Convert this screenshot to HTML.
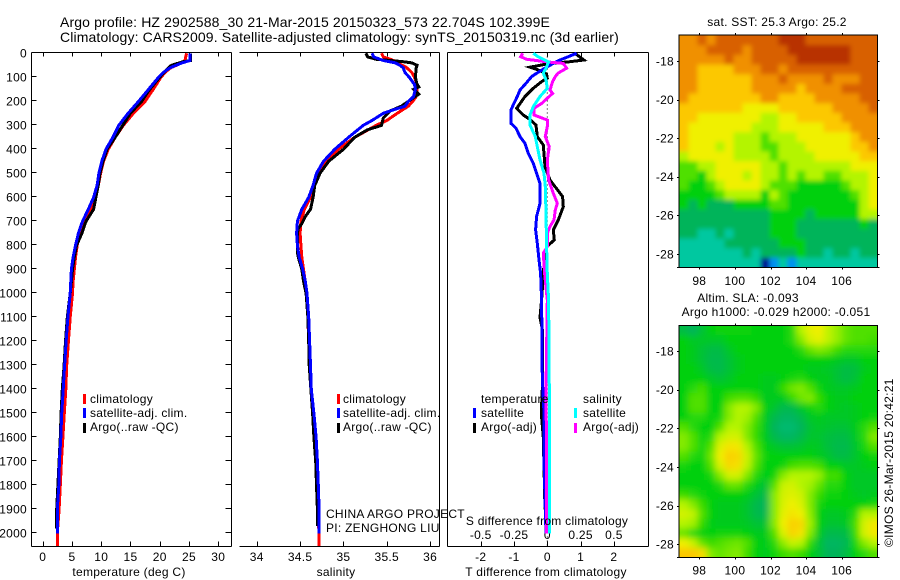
<!DOCTYPE html>
<html>
<head>
<meta charset="utf-8">
<title>Argo profile</title>
<style>
html,body{margin:0;padding:0;background:#fff;}
svg{display:block;}
text{font-family:"Liberation Sans",sans-serif;font-size:12px;fill:#000;letter-spacing:0.27px;}
.t{font-size:14px;letter-spacing:0.13px;}
.a{stroke:#000;stroke-width:1;fill:none;shape-rendering:crispEdges;}
.s{fill:none;stroke-width:3;stroke-linejoin:miter;shape-rendering:crispEdges;}
.m{text-anchor:middle;}
.e{text-anchor:end;}
</style>
</head>
<body>
<svg id="chart" xmlns="http://www.w3.org/2000/svg" width="900" height="580" viewBox="0 0 900 580">
  <defs>
    <clipPath id="clip-sst"><rect x="679.5" y="35.5" width="198" height="232"/></clipPath>
    <clipPath id="clip-sla"><rect x="679.5" y="325.5" width="198" height="232"/></clipPath>
    <filter id="blur-sst" filterUnits="userSpaceOnUse" x="650" y="10" width="250" height="280"><feGaussianBlur stdDeviation="2.5"/></filter>
    <filter id="blur-sla" filterUnits="userSpaceOnUse" x="650" y="300" width="250" height="280"><feGaussianBlur stdDeviation="3.5"/></filter>
  </defs>

  <text class="t" x="60" y="27">Argo profile: HZ 2902588_30 21-Mar-2015 20150323_573 22.704S 102.399E</text>
  <text class="t" x="60" y="42">Climatology: CARS2009. Satellite-adjusted climatology: synTS_20150319.nc (3d earlier)</text>

  <g id="axes"></g>
  <g id="series"></g>

  <text class="m" x="129" y="576">temperature (deg C)</text>
  <text class="m" x="336" y="576">salinity</text>
  <text class="m" x="546" y="576">T difference from climatology</text>
  <text class="m" x="547" y="525">S difference from climatology</text>

  <g>
    <rect x="83" y="394" width="3" height="10" fill="#f00"/>
    <text x="90" y="403">climatology</text>
    <rect x="83" y="408" width="3" height="10" fill="#00f"/>
    <text x="90" y="417">satellite-adj. clim.</text>
    <rect x="83" y="423" width="3" height="10" fill="#000"/>
    <text x="90" y="431">Argo(..raw -QC)</text>
  </g>
  <g>
    <rect x="337" y="394" width="3" height="10" fill="#f00"/>
    <text x="343" y="403">climatology</text>
    <rect x="337" y="408" width="3" height="10" fill="#00f"/>
    <text x="343" y="417">satellite-adj. clim.</text>
    <rect x="337" y="423" width="3" height="10" fill="#000"/>
    <text x="343" y="431">Argo(..raw -QC)</text>
  </g>
  <g>
    <text x="481" y="403">temperature</text>
    <rect x="473" y="408" width="3" height="10" fill="#00f"/>
    <text x="481" y="417">satellite</text>
    <rect x="473" y="423" width="3" height="10" fill="#000"/>
    <text x="481" y="431">Argo(-adj)</text>
    <text x="583" y="403">salinity</text>
    <rect x="574" y="408" width="3" height="10" fill="#0ff"/>
    <text x="583" y="417">satellite</text>
    <rect x="574" y="423" width="3" height="10" fill="#f0f"/>
    <text x="583" y="431">Argo(-adj)</text>
  </g>

  <text x="326" y="518">CHINA ARGO PROJECT</text>
  <text x="326" y="532">PI: ZENGHONG LIU</text>

  <text class="m" x="777" y="26">sat. SST: 25.3 Argo: 25.2</text>
  <text class="m" x="748" y="302">Altim. SLA: -0.093</text>
  <text class="m" x="776" y="316">Argo h1000: -0.029 h2000: -0.051</text>
  <text transform="translate(893,547) rotate(-90)">©IMOS 26-Mar-2015 20:42:21</text>

  <g clip-path="url(#clip-sst)"><g id="sst-cells" filter="url(#blur-sst)"></g></g>
  <g clip-path="url(#clip-sla)"><g id="sla-cells" filter="url(#blur-sla)"></g></g>
  <g id="map-axes"></g>
</svg>

<script>
// ---- tick labels ----
const depthTicks = [0,100,200,300,400,500,600,700,800,900,1000,1100,1200,1300,1400,1500,1600,1700,1800,1900,2000];
const tempTicks = [0,5,10,15,20,25,30];
const salTicks = [34,34.5,35,35.5,36];
const tDiffTicks = [-2,-1,0,1,2];
const sDiffTicks = [-0.5,-0.25,0,0.25,0.5];
const lonTicks = [98,100,102,104,106];
const latTicks = [-18,-20,-22,-24,-26,-28];

// ---- temperature profiles ----
const tempClimDepth = [0,30,40,60,80,100,150,200,250,300,350,400,450,500,550,600,650,700,750,800,850,900,950,1000,1100,1200,1300,1400,1500,1600,1700,1800,1900,2000,2053];
const tempClimValue = [24.6,24.3,23.8,21.9,20.9,20.2,18.9,17.5,15.5,13.8,12.4,11.2,10.4,9.9,9.5,9.1,8.2,7.2,6.4,5.9,5.6,5.4,5.2,5.1,4.7,4.4,4.1,3.95,3.7,3.45,3.2,3.0,2.8,2.5,2.5];
const tempArgoDepth = [0,30,35,50,60,100,150,200,250,300,350,400,450,500,550,600,650,700,750,800,850,900,950,1000,1100,1200,1300,1400,1500,1600,1700,1800,1900,1980];
const tempArgoValue = [25.3,25.3,24.0,22.0,21.5,20.0,18.3,16.9,15.0,13.7,12.4,11.0,10.3,9.8,9.5,9.1,8.7,7.4,6.7,5.8,5.4,5.1,4.9,4.7,4.2,3.9,3.65,3.35,3.15,3.0,2.8,2.6,2.4,2.4];
const tempSatDepth = [0,30,40,60,80,100,150,200,250,300,350,400,450,500,550,600,650,700,750,800,850,900,950,1000,1100,1200,1300,1400,1500,1600,1700,1800,1900,2000];
const tempSatValue = [25.2,25.2,23.8,21.8,20.6,19.8,18.1,16.4,14.6,13.0,12.0,10.8,10.1,9.6,9.3,8.7,7.8,6.8,6.1,5.6,5.2,4.9,4.8,4.7,4.3,4.0,3.75,3.5,3.25,3.1,2.85,2.75,2.5,2.5];

// ---- salinity profiles ----
const salClimDepth = [0,15,30,40,60,80,100,130,150,180,200,220,250,280,300,350,400,450,500,550,600,650,700,750,800,850,900,1000,1200,1400,1600,1800,1900,2000,2053];
const salClimValue = [35.44,35.46,35.58,35.63,35.73,35.79,35.82,35.85,35.85,35.84,35.8,35.75,35.62,35.5,35.38,35.13,34.94,34.81,34.72,34.67,34.62,34.55,34.51,34.5,34.51,34.52,34.54,34.58,34.6,34.63,34.68,34.7,34.7,34.72,34.72];
const salArgoDepth = [0,15,25,30,35,40,50,60,100,130,140,150,170,190,220,240,270,300,320,350,400,450,500,550,600,650,680,710,730,750,800,830,850,900,950,1000,1100,1200,1300,1400,1500,1600,1700,1800,1900,1970];
const salArgoValue = [35.26,35.28,35.38,35.54,35.69,35.79,35.85,35.84,35.83,35.85,35.87,35.81,35.87,35.79,35.67,35.54,35.46,35.44,35.27,35.13,35.0,34.83,34.73,34.67,34.65,34.62,34.56,34.52,34.48,34.47,34.47,34.47,34.48,34.52,34.54,34.57,34.59,34.6,34.605,34.625,34.645,34.66,34.68,34.69,34.7,34.7];
const salSatDepth = [0,15,30,40,50,60,80,100,130,150,180,200,220,250,280,300,350,400,450,500,550,600,650,700,750,800,850,900,950,1000,1100,1200,1300,1400,1500,1600,1700,1800,1900,2000];
const salSatValue = [35.33,35.35,35.46,35.6,35.65,35.69,35.71,35.76,35.82,35.83,35.81,35.75,35.71,35.46,35.33,35.23,35.06,34.9,34.77,34.69,34.65,34.6,34.52,34.47,34.46,34.47,34.49,34.53,34.56,34.58,34.6,34.61,34.62,34.63,34.66,34.685,34.7,34.71,34.72,34.72];

// ---- difference profiles ----
const dSalArgoDepth = [0,14,25,36,42,62,83,97,118,153,167,187,208,229,257,278,305,347,389,444,528,583,625,653,694,722,750,806,833,917,1028,1400,1700,2000];
const dSalArgoValue = [-0.185,-0.2,-0.155,0,0.12,0.145,0.08,0.06,0.04,0.02,0.04,0,-0.04,-0.1,-0.1,0,0,-0.015,0.015,0,0.01,0.045,0.075,0.06,0.05,0.02,0,0,-0.03,-0.02,0,-0.01,-0.005,-0.005];
const dTempArgoDepth = [0,28,35,44,58,72,86,104,118,146,180,229,257,278,299,347,382,472,528,597,639,694,736,778,806,833,917,1028,1100,1150,1400,1500,1600,1900];
const dTempArgoValue = [0.83,1.1,0.68,0,-0.52,-0.22,-0.02,0,-0.17,-0.42,-0.67,-0.92,-0.72,-0.5,-0.34,-0.3,-0.12,-0.07,0.08,0.46,0.48,0.33,0.18,0.21,-0.02,-0.07,-0.12,-0.17,-0.22,-0.15,-0.15,-0.18,-0.12,-0.07];
const dTempSatDepth = [0,28,42,70,97,125,153,180,208,236,292,312,347,375,417,458,500,542,625,680,736,792,860,917,1028,1350,1500,1700,1900,2000];
const dTempSatValue = [0.88,0.38,0.18,-0.17,-0.47,-0.64,-0.82,-0.9,-1.0,-1.09,-1.09,-0.94,-0.82,-0.67,-0.57,-0.42,-0.32,-0.22,-0.22,-0.32,-0.35,-0.3,-0.25,-0.2,-0.17,-0.15,-0.1,-0.1,-0.06,-0.04];
const dSalSatDepth = [0,14,36,62,83,111,146,180,222,257,299,347,389,444,500,556,667,806,917,1028,1400,2000];
const dSalSatValue = [-0.105,-0.07,0.01,-0.01,-0.03,-0.01,0,-0.055,-0.105,-0.13,-0.13,-0.09,-0.075,-0.055,-0.025,-0.015,-0.01,-0.005,0,0.01,0.015,0.015];

// ---- heatmap values (colour-scale level) ----
const sstGrid = [
[9,9,10,9,10,10,10,10,10,10,10,11,11,11,10,10,10,10,10,10,10,10],
[9,9,9,10,10,10,10,9,10,10,10,10,11,11,11,11,11,11,11,10,10,10],
[9,9,9,9,9,10,9,9,10,10,10,10,10,11,11,11,11,11,11,10,10,10],
[9,9,8,8,8,8,9,9,9,10,10,9,10,10,10,10,10,10,10,10,10,10],
[9,9,8,8,8,8,8,8,9,9,9,10,9,9,9,9,10,9,9,9,10,10],
[9,9,8,8,8,8,8,8,9,9,9,9,9,8,9,9,9,9,10,10,10,10],
[9,8,8,8,8,8,8,8,8,9,9,8,8,8,8,9,9,9,9,9,10,10],
[8,8,8,8,8,8,8,7,7,7,7,8,8,8,8,8,8,9,9,9,9,10],
[8,8,7,7,7,7,7,7,7,6,6,7,7,8,8,8,8,8,9,9,9,9],
[8,7,7,7,7,7,7,7,6,6,6,7,7,7,7,7,8,8,8,9,9,9],
[8,7,7,7,7,7,6,6,6,5,6,6,6,7,7,7,7,7,7,8,9,9],
[8,7,7,7,6,7,6,6,6,5,5,6,6,6,7,7,7,7,7,8,8,9],
[6,7,7,7,7,7,6,6,6,6,5,6,6,6,6,7,7,7,7,7,8,8],
[5,5,6,6,7,7,7,7,7,6,6,5,6,6,6,6,6,6,6,7,7,7],
[5,5,4,6,7,7,7,6,7,6,6,5,6,5,6,6,5,5,6,6,6,7],
[5,4,4,5,6,7,7,7,7,6,5,5,5,4,4,4,4,4,5,6,6,7],
[4,4,4,4,5,6,6,6,6,4,6,5,4,4,4,4,4,4,4,5,6,7],
[4,3,4,3,3,3,4,4,4,4,5,5,4,4,4,4,4,4,4,4,6,7],
[3,3,3,3,3,3,3,3,3,3,4,4,4,4,3,4,4,4,4,4,6,6],
[3,3,3,3,3,3,3,3,3,3,4,4,4,3,3,3,3,3,3,3,4,3],
[3,3,2,2,3,2,3,3,3,3,4,4,4,3,3,3,3,3,3,3,3,3],
[2,2,2,2,2,3,3,3,3,3,3,4,4,4,3,3,3,3,3,3,3,3],
[2,2,2,2,2,2,2,3,2,3,3,3,3,4,3,3,2,3,3,2,3,3],
[2,2,2,2,2,2,2,2,2,0,1,2,1,2,2,2,2,2,2,2,2,2]
];
const slaGrid = [
[3.3,3,3.5,4,4.2,4.2,4.2,4.2,4,4,4,4,4.5,6,6.8,7,6.2,5.7,5.2,5,5,5],
[4,3.7,3.7,3.7,3.7,4,4,4,4,4,4,4,4.5,5.5,6.5,6.8,6.2,5.7,5.2,5,5,4.8],
[4,3.8,3.5,3.3,3.3,3.7,4,4,4,4,4,4,4,4.5,5.2,5.5,5.3,4.8,4.5,4.5,4.5,4.5],
[4,3.8,3.5,3.2,3.2,3.5,3.8,4,4,4,4,4,4,4,4,4,4,3.8,3.7,3.7,4,4],
[4,4,3.7,3.3,3.2,3.5,3.8,4,4,4,4,4,4,4,3.8,3.8,3.7,3.5,3.3,3.4,3.8,4],
[4,4,4,3.7,3.5,3.7,4,4,4,3.8,3.8,4,4.3,4.5,4,3.8,3.8,3.5,3.3,3.5,4,4],
[4,4.5,4.8,4,4,4,4,4,4,3.8,3.8,4.6,5.3,5.5,5,4.2,3.8,3.7,3.7,3.8,4,4],
[4,5,5,4,4,4.8,5,5,4.6,3.8,3.8,3.8,4.6,5.3,5.5,4.6,4,3.8,3.8,4,4,4],
[4,5,5,4,4,5.5,6,6,5.5,4,3.6,3.2,3.2,3.7,4.2,4.5,4,3.8,3.7,3.8,4,4],
[4,4.5,4.5,4,4.3,5.5,6,5.8,5,3.8,3.2,2.9,2.9,3.2,3.7,3.8,3.7,3.7,3.7,3.8,4,4.2],
[5,4.5,4,4,5,6,6,5.5,4.7,3.8,3,2.7,2.7,3,3.5,3.7,3.6,3.5,3.5,3.8,4.5,5],
[5.5,5,4.2,4.5,6,6.5,6.5,5.5,4.6,3.8,3.2,2.9,2.9,3.2,3.6,3.6,3.4,3.3,3.3,3.7,4.5,5.5],
[5.5,5,4.3,5,6.7,7.3,7.2,6,5,4,3.7,3.5,3.5,3.6,3.8,3.7,3.4,3.2,3.2,3.6,4.3,5],
[5,4.5,4.2,5.3,7,7.8,7.6,6.4,5.2,4.2,4,4,4,4,4,3.8,3.6,3.3,3.3,3.6,4,4.2],
[4.3,4,4,5,6.6,7.6,7.4,6.2,5,4,4,4.2,4.8,5,5,4.8,4,4,3.7,3.7,3.8,4],
[4,4,4,4.3,5.5,6.5,6.5,5.5,4.5,3.9,4.2,5.5,6,6,6,5.7,4.8,4.8,4,3.7,3.7,3.7],
[4,4,4,4,4.4,5.2,5.2,4.5,3.9,3.5,5,6.3,6.5,6,5.8,5.2,4.5,4.5,4,3.7,3.7,3.7],
[4.7,4.5,4.2,4,4,4,4,3.9,3.5,3.2,5.5,6.5,6.7,6.4,5.5,4.7,4.2,4.2,4,3.8,3.7,3.8],
[6,5.5,4.7,4,3.8,3.8,3.8,3.6,3.2,3,5.5,6.6,7,6.6,5.5,4.3,4,4,4,4,4,4.3],
[6.5,6.2,5,4,3.8,3.8,3.8,3.6,3.2,3.1,5.5,6.8,7.3,7,5.6,4,3.7,3.7,3.8,4.5,6,6],
[6,5.8,4.6,3.9,3.8,3.8,3.8,3.7,3.5,3.5,5.5,7,7.8,7.6,5.8,4,3.6,3.6,3.7,4.8,6.5,7.2],
[5.2,4.5,4,4,4.2,4.2,4.2,4,3.8,3.8,5,6.6,7.7,7.3,5.5,3.8,3.2,3.2,3.3,4.6,6.5,7.2],
[7,6.3,5.2,4.7,5,5.2,5.3,5,4,3.8,4.5,5.6,6.3,6,4.6,3.5,2.9,2.9,3.1,4.3,5.5,6],
[8,8,7.5,5.5,5.2,5.4,5.5,4.8,4,3.8,4.2,4.7,5,4.7,4,3.5,3,3,3.3,4,4.5,5]
];

const NS = 'http://www.w3.org/2000/svg';
const axesLayer = document.getElementById('axes');
const seriesLayer = document.getElementById('series');
const mapAxes = document.getElementById('map-axes');

function make(tag, attrs, parent, txt) {
  const el = document.createElementNS(NS, tag);
  for (const k in attrs) el.setAttribute(k, attrs[k]);
  if (txt !== undefined) el.textContent = txt;
  parent.appendChild(el);
  return el;
}

// ---- scales ----
const yDepth = d => 53.3 + 0.24 * d;
const xTemp = v => 42.7 + 5.85 * v;
const xSal = v => 256.7 + 86.7 * (v - 34);
const xDT = v => 547.3 + 33.3 * v;
const xDS = v => 547.3 + 133.2 * v;
const xLon = v => 699.3 + 17.8 * (v - 98);
const ySst = v => 61 + 19.3 * (-18 - v);
const ySla = v => 351 + 19.33 * (-18 - v);

const TOP = 52.5, BOT = 546.5;

function line(x1, y1, x2, y2, name, parent) {
  const el = make('line', {x1: x1, y1: y1, x2: x2, y2: y2, class: 'a'}, parent);
  
  
  return el;
}
function label(x, y, cls, txt, name, parent) {
  const el = make('text', {x: x, y: y, class: cls}, parent, txt);
  
  
  return el;
}
function fmt(v) { return String(v); }

// ---- profile panel frames ----
// temperature panel
line(31.5, TOP, 231.5, TOP, 'temperature-top-axis', axesLayer);
line(31.5, BOT, 231.5, BOT, 'temperature-bottom-axis', axesLayer);
line(31.5, TOP, 31.5, BOT, 'temperature-left-axis', axesLayer);
line(231.5, TOP, 231.5, BOT, 'temperature-right-axis', axesLayer);
// salinity panel (open on the left)
line(239.5, TOP, 439.5, TOP, 'salinity-top-axis', axesLayer);
line(239.5, BOT, 439.5, BOT, 'salinity-bottom-axis', axesLayer);
line(439.5, TOP, 439.5, BOT, 'salinity-right-axis', axesLayer);
// difference panel
line(447.5, TOP, 648.5, TOP, 'difference-top-axis', axesLayer);
line(447.5, BOT, 648.5, BOT, 'difference-bottom-axis', axesLayer);
line(447.5, TOP, 447.5, BOT, 'difference-left-axis', axesLayer);
line(648.5, TOP, 648.5, BOT, 'difference-right-axis', axesLayer);

depthTicks.forEach(d => {
  const y = Math.round(yDepth(d)) - 0.5;
  line(31.5, y, 36.5, y, 'depth-tick-left', axesLayer);
  line(225.5, y, 231.5, y, 'depth-tick-right', axesLayer);
  label(27, yDepth(d) + 4.3, 'e', fmt(d), 'depth-tick-label', axesLayer);
});
function xTicks(ticks, sx, name, showLabel) {
  ticks.forEach(v => {
    const x = Math.round(sx(v)) + 0.5;
    line(x, TOP, x, TOP + 4, name + '-tick-top', axesLayer);
    line(x, BOT - 5, x, BOT, name + '-tick-bottom', axesLayer);
    if (showLabel) label(sx(v), 561, 'm', fmt(v), name + '-tick-label', axesLayer);
  });
}
xTicks(tempTicks, xTemp, 'temperature', true);
xTicks(salTicks, xSal, 'salinity', true);
xTicks(tDiffTicks, xDT, 'difference', true);
sDiffTicks.forEach(v => {
  label(xDS(v), 539, 'm', fmt(v), 's-difference-tick-label', axesLayer);
});

// zero line of the difference panel
const zeroLine = make('line', {x1: xDT(0), y1: TOP, x2: xDT(0), y2: BOT, stroke: '#000', 'stroke-width': 1, 'stroke-dasharray': '1 3'}, axesLayer);



// ---- profile series ----
function profile(depths, values, sx, color, name) {
  const pts = depths.map((d, i) => sx(values[i]).toFixed(1) + ',' + yDepth(d).toFixed(1)).join(' ');
  const el = make('polyline', {points: pts, stroke: color, class: 's'}, seriesLayer);
  
  
  return el;
}
profile(tempClimDepth, tempClimValue, xTemp, '#f00', 'temperature-climatology-line');
profile(tempArgoDepth, tempArgoValue, xTemp, '#000', 'temperature-argo-line');
profile(tempSatDepth, tempSatValue, xTemp, '#00f', 'temperature-satellite-line');

profile(salClimDepth, salClimValue, xSal, '#f00', 'salinity-climatology-line');
profile(salArgoDepth, salArgoValue, xSal, '#000', 'salinity-argo-line');
profile(salSatDepth, salSatValue, xSal, '#00f', 'salinity-satellite-line');

profile(dTempArgoDepth, dTempArgoValue, xDT, '#000', 'difference-t-argo-line');
profile(dTempSatDepth, dTempSatValue, xDT, '#00f', 'difference-t-satellite-line');
profile(dSalArgoDepth, dSalArgoValue, xDS, '#f0f', 'difference-s-argo-line');
profile(dSalSatDepth, dSalSatValue, xDS, '#0ff', 'difference-s-satellite-line');

// ---- heatmaps ----
const ramp = ['#000090','#0090f0','#00c8a0','#00b45a','#00d010','#50e000','#b4f400','#f0f000','#fcc800','#f09000','#d86000','#b83200'];
function hexRgb(h) { return [1,3,5].map(i => parseInt(h.substr(i,2),16)); }
function colorOf(v) {
  const lo = Math.max(0, Math.min(ramp.length - 2, Math.floor(v)));
  const t = Math.max(0, Math.min(1, v - lo));
  const a = hexRgb(ramp[lo]), b = hexRgb(ramp[lo + 1]);
  return 'rgb(' + a.map((c, i) => Math.round(c + (b[i] - c) * t)).join(',') + ')';
}
function heatmap(grid, groupId, x0, y0, w, h, name) {
  const g = document.getElementById(groupId);
  const rows = grid.length, cols = grid[0].length;
  const cw = w / cols, ch = h / rows;
  grid.forEach((row, r) => row.forEach((v, c) => {
    const pad = 12;
    const x = x0 + c * cw - (c === 0 ? pad : 0);
    const y = y0 + r * ch - (r === 0 ? pad : 0);
    const wd = cw + 0.6 + (c === 0 || c === cols - 1 ? pad : 0);
    const hd = ch + 0.6 + (r === 0 || r === rows - 1 ? pad : 0);
    const el = make('rect', {x: x.toFixed(2), y: y.toFixed(2), width: wd.toFixed(2), height: hd.toFixed(2), fill: colorOf(v)}, g);
    
    
  }));
}
heatmap(sstGrid, 'sst-cells', 679.5, 35.5, 198, 232, 'sst-cell');
heatmap(slaGrid, 'sla-cells', 679.5, 325.5, 198, 232, 'sla-cell');

function mapFrame(top, bottom, sy, lonBase, name) {
  const L = 679, R = 877.5;
  make('rect', {x: L, y: top, width: R - L, height: bottom - top, fill: 'none', stroke: '#000', 'stroke-width': 1, 'shape-rendering': 'crispEdges'}, mapAxes);
  
  
  lonTicks.forEach(v => {
    const x = Math.round(xLon(v)) + 0.5;
    line(x, top - 2, x, top, name + '-lon-tick-top', mapAxes);
    line(x, bottom, x, bottom + 2, name + '-lon-tick-bottom', mapAxes);
    label(xLon(v), lonBase, 'm', fmt(v), name + '-lon-label', mapAxes);
  });
  latTicks.forEach(v => {
    const y = Math.round(sy(v)) + 0.5;
    line(L - 2, y, L, y, name + '-lat-tick-left', mapAxes);
    line(R, y, R + 2, y, name + '-lat-tick-right', mapAxes);
    label(674, sy(v) + 4.3, 'e', fmt(v), name + '-lat-label', mapAxes);
  });
  line(L - 2, bottom, L, bottom, name + '-corner-tick-left', mapAxes);
  line(R, bottom, R + 2, bottom, name + '-corner-tick-right', mapAxes);
}
mapFrame(35, 267.5, ySst, 285, 'sst-map');
mapFrame(325.5, 557.5, ySla, 574.5, 'sla-map');
</script>
</body>
</html>
